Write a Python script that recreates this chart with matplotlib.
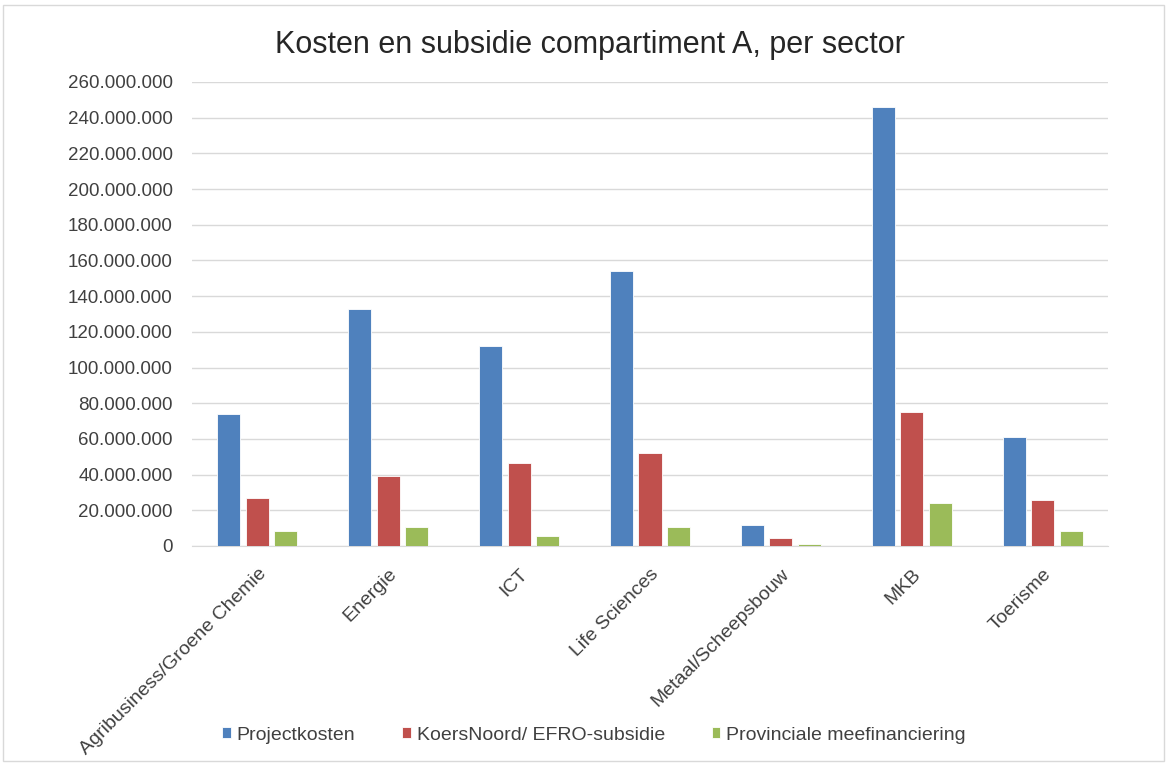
import numpy as np
import matplotlib.pyplot as plt
from matplotlib.ticker import FuncFormatter, MultipleLocator
from matplotlib.patches import Rectangle

sectors = ['Agribusiness/Groene Chemie', 'Energie', 'ICT', 'Life Sciences',
           'Metaal/Scheepsbouw', 'MKB', 'Toerisme']
projectkosten = [74.0e6, 133.0e6, 112.0e6, 154.0e6, 11.6e6, 246.0e6, 61.0e6]
efro_subsidie = [27.0e6, 39.0e6, 46.5e6, 52.0e6, 4.3e6, 75.0e6, 25.5e6]
provinciaal = [8.5e6, 10.6e6, 5.4e6, 10.6e6, 1.1e6, 24.3e6, 8.6e6]

series = [
    ('Projectkosten', projectkosten, '#4f81bd'),
    ('KoersNoord/ EFRO-subsidie', efro_subsidie, '#c0504d'),
    ('Provinciale meefinanciering', provinciaal, '#9bbb59'),
]

plt.rcParams['font.family'] = ['Liberation Sans', 'DejaVu Sans']

fig = plt.figure(figsize=(11.69, 7.65), dpi=100)
ax = fig.add_axes([192 / 1169, 1 - 546 / 765, (1108 - 192) / 1169, (546 - 82) / 765])

# light frame around the whole chart
fig.patches.append(Rectangle((3 / 1169, 4 / 765), 1161 / 1169, 756 / 765,
                             transform=fig.transFigure, fill=False,
                             edgecolor='#d9d9d9', linewidth=1))

x = np.arange(len(sectors))
width = 0.176
offset = 0.218
for i, (name, vals, color) in enumerate(series):
    ax.bar(x + (i - 1) * offset, vals, width, color=color, label=name,
           edgecolor='white', linewidth=0.6, zorder=3)

ax.set_xlim(-0.5, len(sectors) - 0.5)
ax.set_ylim(0, 260e6)
ax.yaxis.set_major_locator(MultipleLocator(20e6))
ax.yaxis.set_major_formatter(FuncFormatter(lambda v, p: f'{int(v):,}'.replace(',', '.')))
ax.grid(axis='y', color='#d9d9d9', linewidth=1, zorder=0)

for s in ['top', 'right', 'left']:
    ax.spines[s].set_visible(False)
ax.spines['bottom'].set_color('#d9d9d9')
ax.tick_params(axis='both', length=0, colors='#404040')
ax.tick_params(axis='y', pad=14, labelsize=13.5)

ax.set_xticks(x)
ax.set_xticklabels(sectors, rotation=45, ha='right', rotation_mode='anchor',
                   fontsize=14, color='#404040')
ax.tick_params(axis='x', pad=14)

fig.text(590 / 1169, 1 - 45 / 765, 'Kosten en subsidie compartiment A, per sector',
         ha='center', va='center', fontsize=22, color='#262626')

fig.legend(loc='center', bbox_to_anchor=(594 / 1169, 1 - 735 / 765), ncol=3,
           frameon=False, fontsize=14, handlelength=0.45, handleheight=0.45,
           handletextpad=0.3, columnspacing=2.4, labelcolor='#404040')

plt.savefig('out.png', dpi=100)
plt.close()
